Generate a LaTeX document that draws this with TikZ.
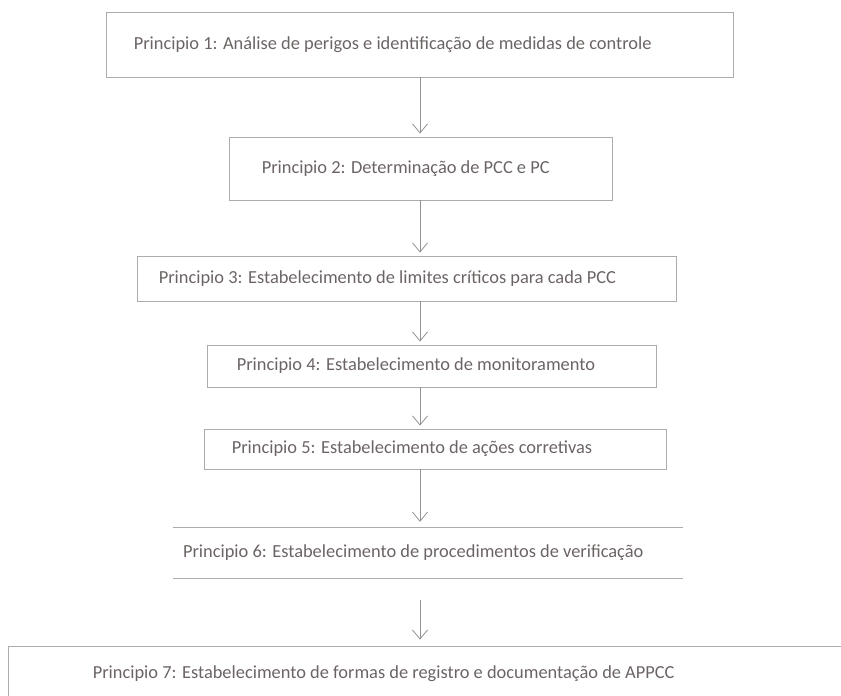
\documentclass[tikz,border=0pt]{standalone}
\usepackage{fontspec}
\setmainfont{Carlito}
\usepackage{tikz}
\usetikzlibrary{arrows.meta}

\definecolor{linha}{RGB}{172,172,172}
\definecolor{texto}{RGB}{108,100,100}

\tikzset{
  caixa/.style={draw=linha, line width=0.9pt, rectangle, inner sep=0pt},
  rotulo/.style={anchor=west, text=texto, font=\fontsize{18.4}{21}\selectfont, inner sep=0pt},
  seta/.style={draw=gray!85, line width=0.8pt, -{Straight Barb[length=9pt, width=15pt]}}
}

\begin{document}
\begin{tikzpicture}[x=1pt, y=-1pt]
  \clip (0,0) rectangle (841,696);
  \coordinate (eixo) at (420,0);
  % caixas dos principios
  \node[caixa, minimum width=627, minimum height=65] (p1) at (419.5,44.5) {};
  \node[caixa, minimum width=383, minimum height=63] (p2) at (420.5,168.5) {};
  \node[caixa, minimum width=539, minimum height=45] (p3) at (406.5,278.5) {};
  \node[caixa, minimum width=449, minimum height=42] (p4) at (431.5,366) {};
  \node[caixa, minimum width=462, minimum height=40] (p5) at (435,449) {};
  \node[minimum width=510, minimum height=50, inner sep=0pt] (p6) at (428,553) {};
  \draw[linha, line width=0.9pt] (p6.north west) -- (p6.north east);
  \draw[linha, line width=0.9pt] (p6.south west) -- (p6.south east);
  \node[caixa, minimum width=860, minimum height=60] (p7) at (438,676) {};

  \node[rotulo] (t1) at ([xshift=28]p1.west) {Principio 1: Análise de perigos e identificação de medidas de controle};
  \node[rotulo] (t2) at ([xshift=33]p2.west) {Principio 2: Determinação de PCC e PC};
  \node[rotulo] (t3) at ([xshift=22]p3.west) {Principio 3: Estabelecimento de limites críticos para cada PCC};
  \node[rotulo] (t4) at ([xshift=30]p4.west) {Principio 4: Estabelecimento de monitoramento};
  \node[rotulo] (t5) at ([xshift=28]p5.west) {Principio 5: Estabelecimento de ações corretivas};
  \node[rotulo] (t6) at ([xshift=10]p6.west) {Principio 6: Estabelecimento de procedimentos de verificação};
  \node[rotulo] (t7) at ([xshift=85,yshift=2]p7.west) {Principio 7: Estabelecimento de formas de registro e documentação de APPCC};

  % setas entre os principios
  \draw[seta] (p1.south -| eixo) -- ([yshift=3pt]p2.north -| eixo);
  \draw[seta] (p2.south -| eixo) -- ([yshift=3pt]p3.north -| eixo);
  \draw[seta] (p3.south -| eixo) -- ([yshift=3pt]p4.north -| eixo);
  \draw[seta] (p4.south -| eixo) -- ([yshift=3pt]p5.north -| eixo);
  \draw[seta] (p5.south -| eixo) -- ([yshift=6pt]p6.north -| eixo);
  \draw[seta] ([yshift=-22pt]p6.south -| eixo) -- ([yshift=6pt]p7.north -| eixo);
\end{tikzpicture}
\end{document}
